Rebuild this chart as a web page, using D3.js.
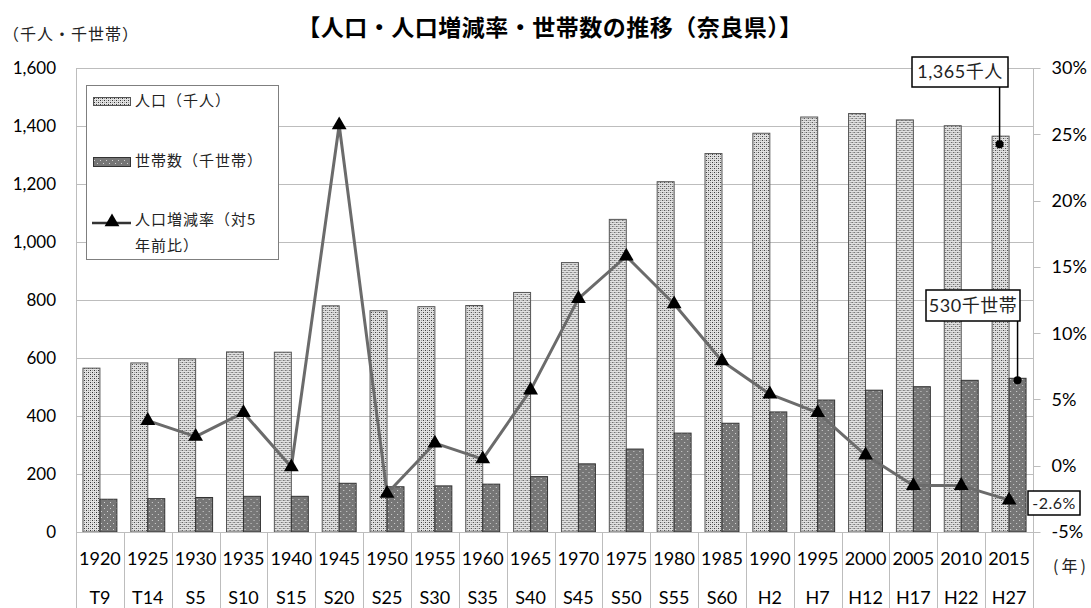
<!DOCTYPE html>
<html>
<head>
<meta charset="utf-8">
<script src="https://cdn.jsdelivr.net/npm/d3@7"></script>
<style>
  body { margin: 0; background: #fff; }
  svg { display: block; font-family: Lato, 'Noto Sans CJK JP', sans-serif; }
</style>
</head>
<body>
<div id="chart"></div>
<script>
const years = ['1920', '1925', '1930', '1935', '1940', '1945', '1950', '1955', '1960', '1965',
  '1970', '1975', '1980', '1985', '1990', '1995', '2000', '2005', '2010', '2015'];
const eras = ['T9', 'T14', 'S5', 'S10', 'S15', 'S20', 'S25', 'S30', 'S35', 'S40',
  'S45', 'S50', 'S55', 'S60', 'H2', 'H7', 'H12', 'H17', 'H22', 'H27'];
// 人口(千人)
const population = [565, 583, 597, 621, 620, 780, 763, 777, 781, 826,
  929, 1078, 1208, 1305, 1375, 1431, 1443, 1421, 1401, 1365];
// 世帯数(千世帯)
const households = [113, 115, 119, 123, 123, 168, 156, 159, 165, 191,
  235, 286, 341, 375, 414, 455, 489, 501, 523, 530];
// 人口増減率(対5年前比, %)
const growth = [null, 3.4, 2.2, 4.0, -0.1, 25.7, -2.1, 1.7, 0.5, 5.7,
  12.6, 15.8, 12.2, 7.9, 5.4, 4.0, 0.8, -1.5, -1.5, -2.6];
const leftTicks = [0, 200, 400, 600, 800, 1000, 1200, 1400, 1600];
const rightTicks = [-5, 0, 5, 10, 15, 20, 25, 30];

const W = 1091, H = 608;
const plot = { left: 76, right: 1033, top: 68, bottom: 532 };
const jp = "'Noto Sans CJK JP'";

const svg = d3.select('#chart').append('svg').attr('width', W).attr('height', H);

// fill patterns
const defs = svg.append('defs');
const popPat = defs.append('pattern').attr('id', 'popPat')
  .attr('patternUnits', 'userSpaceOnUse').attr('width', 4).attr('height', 4)
  .attr('shape-rendering', 'crispEdges');
popPat.append('rect').attr('width', 4).attr('height', 4).attr('fill', '#e2e2e2');
[[0, 0, '#333'], [2, 2, '#333'], [2, 0, '#a0a0a0'], [0, 2, '#a0a0a0']].forEach(([px, py, c]) => {
  popPat.append('rect').attr('x', px).attr('y', py).attr('width', 1).attr('height', 1).attr('fill', c);
});
const hhPat = defs.append('pattern').attr('id', 'hhPat')
  .attr('patternUnits', 'userSpaceOnUse').attr('width', 6).attr('height', 6)
  .attr('shape-rendering', 'crispEdges');
hhPat.append('rect').attr('width', 6).attr('height', 6).attr('fill', '#767676');
[[1, 1], [4, 4]].forEach(([px, py]) => {
  hhPat.append('rect').attr('x', px).attr('y', py).attr('width', 1).attr('height', 1).attr('fill', '#d4d4d4');
});

const x = d3.scaleBand().domain(years).range([plot.left, plot.right]).paddingInner(0).paddingOuter(0);
const x1 = d3.scaleBand().domain(['pop', 'hh']).range([0, x.bandwidth()]).paddingInner(0).paddingOuter(0.41);
const yL = d3.scaleLinear().domain([0, 1600]).range([plot.bottom, plot.top]);
const yR = d3.scaleLinear().domain([-5, 30]).range([plot.bottom, plot.top]);

// title
svg.append('text')
  .attr('x', 550).attr('y', 36)
  .attr('text-anchor', 'middle')
  .attr('font-family', jp)
  .attr('font-weight', 700)
  .attr('font-size', 23)
  .attr('letter-spacing', 0.5)
  .text('【人口・人口増減率・世帯数の推移（奈良県）】');

svg.append('text')
  .attr('x', 3).attr('y', 40)
  .attr('font-family', jp)
  .attr('font-size', 16)
  .attr('letter-spacing', 1)
  .attr('fill', '#222')
  .text('（千人・千世帯）');

// gridlines
svg.append('g').selectAll('line').data(leftTicks.slice(1)).join('line')
  .attr('x1', plot.left).attr('x2', plot.right)
  .attr('y1', d => yL(d) + 0.5).attr('y2', d => yL(d) + 0.5)
  .attr('stroke', '#bdbdbd').attr('stroke-width', 1);

// left tick labels
svg.append('g').selectAll('text').data(leftTicks).join('text')
  .attr('x', 56).attr('y', d => yL(d)).attr('dy', '0.36em')
  .attr('text-anchor', 'end').attr('font-size', 17).attr('fill', '#000')
  .text(d => d3.format(',')(d));

// right axis
const rAxis = svg.append('g').attr('transform', `translate(${plot.right + 0.5},0)`);
rAxis.append('line').attr('y1', plot.top).attr('y2', plot.bottom).attr('stroke', '#bdbdbd');
rAxis.selectAll('line.tick').data(rightTicks).join('line').attr('class', 'tick')
  .attr('x1', 0).attr('x2', 7)
  .attr('y1', d => Math.round(yR(d)) + 0.5).attr('y2', d => Math.round(yR(d)) + 0.5)
  .attr('stroke', '#bdbdbd');
rAxis.selectAll('text').data(rightTicks).join('text')
  .attr('x', 18).attr('y', d => yR(d)).attr('dy', '0.36em')
  .attr('font-size', 18).attr('fill', '#000')
  .text(d => d + '%');

// bars
const groups = svg.append('g').selectAll('g').data(years).join('g')
  .attr('transform', d => `translate(${x(d)},0)`);
groups.append('rect')
  .attr('x', x1('pop')).attr('width', x1.bandwidth())
  .attr('y', (d, i) => yL(population[i])).attr('height', (d, i) => yL(0) - yL(population[i]))
  .attr('fill', 'url(#popPat)').attr('stroke', '#555').attr('stroke-width', 1);
groups.append('rect')
  .attr('x', x1('hh')).attr('width', x1.bandwidth())
  .attr('y', (d, i) => yL(households[i])).attr('height', (d, i) => yL(0) - yL(households[i]))
  .attr('fill', 'url(#hhPat)').attr('stroke', '#333').attr('stroke-width', 1);

// category axis with separators
svg.append('line').attr('x1', plot.left).attr('x2', plot.right)
  .attr('y1', plot.bottom + 0.5).attr('y2', plot.bottom + 0.5).attr('stroke', '#bdbdbd');
const bounds = years.map(d => x(d)).concat([plot.right]);
svg.append('g').selectAll('line').data(bounds).join('line')
  .attr('x1', d => Math.round(d) + 0.5).attr('x2', d => Math.round(d) + 0.5)
  .attr('y1', (d, i) => (i === 0 ? plot.top : plot.bottom)).attr('y2', H)
  .attr('stroke', '#bdbdbd');
svg.append('g').selectAll('text').data(years).join('text')
  .attr('x', d => x(d) + x.bandwidth() / 2).attr('y', 565)
  .attr('text-anchor', 'middle').attr('font-size', 18).attr('fill', '#000')
  .text(d => d);
svg.append('g').selectAll('text').data(eras).join('text')
  .attr('x', (d, i) => x(years[i]) + x.bandwidth() / 2).attr('y', 604)
  .attr('text-anchor', 'middle').attr('font-size', 18).attr('fill', '#000')
  .text(d => d);
svg.append('text').attr('x', 1053).attr('y', 572)
  .attr('font-family', jp).attr('font-size', 16).attr('letter-spacing', 3).attr('fill', '#222')
  .text('(年)');

// growth line
const pts = years.map((d, i) => ({ x: x(d) + x.bandwidth() / 2, v: growth[i] })).filter(p => p.v != null);
const line = d3.line().x(p => p.x).y(p => yR(p.v));
svg.append('path').datum(pts).attr('d', line)
  .attr('fill', 'none').attr('stroke', '#6b6b6b').attr('stroke-width', 3).attr('stroke-linejoin', 'round');
const tri = d3.symbol().type(d3.symbolTriangle).size(95);
svg.append('g').selectAll('path').data(pts).join('path')
  .attr('d', tri).attr('transform', p => `translate(${p.x},${yR(p.v)})`)
  .attr('fill', '#000');

// legend
const lg = svg.append('g');
lg.append('rect').attr('x', 86.5).attr('y', 85.5).attr('width', 192).attr('height', 174)
  .attr('fill', '#fff').attr('stroke', '#7f7f7f');
lg.append('rect').attr('x', 93.5).attr('y', 97.5).attr('width', 37).attr('height', 8)
  .attr('fill', 'url(#popPat)').attr('stroke', '#555');
lg.append('rect').attr('x', 93.5).attr('y', 157.5).attr('width', 37).attr('height', 9)
  .attr('fill', 'url(#hhPat)').attr('stroke', '#333');
lg.append('line').attr('x1', 92).attr('x2', 131).attr('y1', 223).attr('y2', 223)
  .attr('stroke', '#333').attr('stroke-width', 2.5);
lg.append('path').attr('d', tri).attr('transform', 'translate(112,222)').attr('fill', '#000');
const legendText = [['人口（千人）', 101], ['世帯数（千世帯）', 161], ['人口増減率（対5', 220], ['年前比）', 246]];
lg.selectAll('text').data(legendText).join('text')
  .attr('x', 135).attr('y', d => d[1]).attr('dy', '0.36em')
  .attr('font-family', jp).attr('font-size', 15).attr('letter-spacing', 1)
  .attr('fill', '#222')
  .text(d => d[0]);

// callouts
function callout(label, cx, cy, w, h, tx, ty, fs) {
  const g = svg.append('g');
  if (tx != null) {
    g.append('line').attr('x1', tx).attr('x2', tx).attr('y1', cy + h / 2).attr('y2', ty)
      .attr('stroke', '#000').attr('stroke-width', 1.5);
    g.append('circle').attr('cx', tx).attr('cy', ty).attr('r', 4).attr('fill', '#000');
  }
  g.append('rect').attr('x', cx - w / 2).attr('y', cy - h / 2).attr('width', w).attr('height', h)
    .attr('fill', '#fff').attr('stroke', '#000').attr('stroke-width', 1.5);
  g.append('text').attr('x', cx).attr('y', cy).attr('dy', '0.36em')
    .attr('text-anchor', 'middle').attr('font-size', fs).attr('letter-spacing', 0.5).attr('fill', '#222')
    .text(label);
}
const last = years.length - 1;
const popCx = x(years[last]) + x1('pop') + x1.bandwidth() / 2;
const hhCx = x(years[last]) + x1('hh') + x1.bandwidth() / 2;
callout(d3.format(',')(population[last]) + '千人', 960, 72, 96, 30, popCx - 1, yL(population[last]) + 8, 18);
callout(households[last] + '千世帯', 973, 305.5, 94, 31, hhCx, yL(households[last]) + 2, 18);
callout(growth[last] + '%', 1054, 503, 52, 24, null, null, 16);
</script>
</body>
</html>
